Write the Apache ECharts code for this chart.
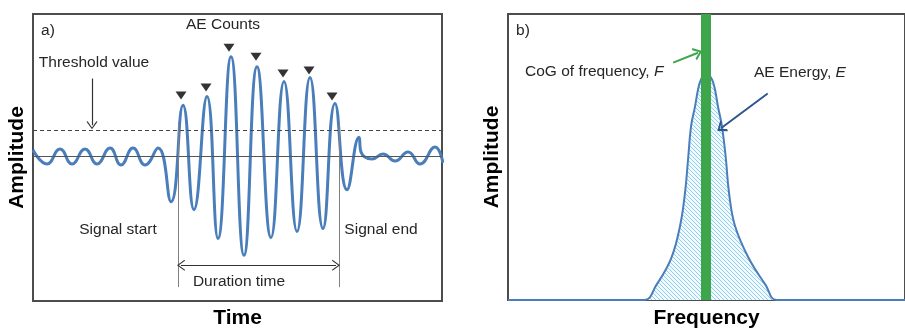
<!DOCTYPE html>
<html lang="en">
<head>
	<meta charset="UTF-8">
	<title>AE signal</title>
	<style>
		body, div {
			margin: 0;
			padding: 0;
		}
		#main {
			width: 905px;
			height: 334px;
			background: #fff;
		}
	</style>
</head>
<body>
	<div id="main"></div>

	<script src="https://cdn.jsdelivr.net/npm/echarts@6/dist/echarts.min.js"></script>

	<script>
    // a) waveform: time / amplitude (peaks, troughs)
    var waveTime = [0, 14, 27, 39, 52, 64, 77, 88, 100, 112, 125,
        138, 150, 161, 174, 185, 198, 211, 224, 238, 251, 264, 277, 290, 302,
        314, 326, 328, 339, 350, 362, 375, 387, 402, 410];
    var waveAmp = [6, -8, 7, -8, 7, -8, 8, -9, 8, -9, 8,
        -46, 51, -54, 60, -83, 100, -100, 90, -82, 75, -76, 79, -73, 53,
        -34, 19, 4, -3, 2, -5, 4, -8, 9, -7];

    // AE counts markers
    var countTime = [148, 173, 196, 223, 250, 276, 299];
    var countAmp = [61, 69, 109, 100, 83, 86, 60];

    var threshold = 26;
    var signalStart = 145;
    var signalEnd = 306;

    // b) spectrum
    var specFreq = [0, 137, 149, 164, 173, 178, 181, 184, 188, 191, 194, 199,
        205, 208, 211, 215, 219, 222, 228, 242, 259, 270, 399];
    var specAmp = [0, 0, 15, 42, 75, 109, 142, 175, 195, 212, 222, 229,
        222, 212, 195, 175, 142, 109, 75, 42, 15, 0, 0];
    var cogFreq = 199;

    var font = '"Liberation Sans", Arial, sans-serif';
    var txt = '#262626';
    var blue = '#4a7ebb';
    var green = '#3ea64a';
    var chevron = 'path://M0,10 L5,0 L10,10 L9,10.6 L5,2.4 L1,10.6 Z';
    var chevronBold = 'path://M0,10 L5,0 L10,10 L8.4,10.8 L5,3.6 L1.6,10.8 Z';

    function pairs(xs, ys) {
        return xs.map(function (x, i) { return [x, ys[i]]; });
    }

    // hatch for the energy area
    var hatch = document.createElement('canvas');
    hatch.width = 4;
    hatch.height = 4;
    var hc = hatch.getContext('2d');
    hc.fillStyle = '#f2fafe';
    hc.fillRect(0, 0, 4, 4);
    hc.fillStyle = '#8fd0f0';
    for (var k = 0; k < 4; k++) {
        hc.fillRect(k, k, 1, 1);
    }

    function axisName(name, gap) {
        return {
            name: name,
            nameLocation: 'middle',
            nameGap: gap,
            nameTextStyle: { fontFamily: font, fontWeight: 'bold', fontSize: 21, color: '#000' }
        };
    }

    function bareAxis(extra) {
        var a = {
            type: 'value',
            axisLine: { show: false },
            axisTick: { show: false },
            axisLabel: { show: false },
            splitLine: { show: false }
        };
        for (var key in extra) a[key] = extra[key];
        return a;
    }

    function label(text, x, y, align, rich) {
        return {
            type: 'text',
            x: x,
            y: y,
            silent: true,
            style: {
                text: text,
                fill: txt,
                font: '15.5px ' + font,
                align: align || 'center',
                verticalAlign: 'middle',
                rich: rich
            }
        };
    }
    var italic = { i: { fontStyle: 'italic', fontSize: 15.5, fontFamily: font, fill: txt } };

    var myEcharts = echarts.init(document.getElementById('main'));

    var options = {
        animation: false,
        grid: [
            { left: 33, top: 14, width: 409, height: 289, show: true, borderColor: '#4d4d4d', borderWidth: 2 },
            { left: 508, top: 14, width: 399, height: 288, show: true, borderColor: '#4d4d4d', borderWidth: 2 }
        ],
        xAxis: [
            bareAxis(Object.assign({ gridIndex: 0, min: 0, max: 409 }, axisName('Time', 7))),
            bareAxis(Object.assign({ gridIndex: 1, min: 0, max: 399 }, axisName('Frequency', 8)))
        ],
        yAxis: [
            bareAxis(Object.assign({ gridIndex: 0, min: -146, max: 143 }, axisName('Amplitude', 5))),
            bareAxis(Object.assign({ gridIndex: 1, min: 0, max: 288 }, axisName('Amplitude', 5)))
        ],
        series: [
            {
                type: 'line',
                xAxisIndex: 0,
                yAxisIndex: 0,
                data: pairs(waveTime, waveAmp),
                smooth: 0.5,
                showSymbol: false,
                lineStyle: { color: blue, width: 3 },
                z: 3,
                markLine: {
                    silent: true,
                    symbol: ['none', 'none'],
                    symbolSize: [11, 8],
                    label: { show: false },
                    data: [
                        { yAxis: 0, lineStyle: { type: 'solid', color: '#555', width: 1 } },
                        { yAxis: threshold, lineStyle: { type: [4, 3], color: '#444', width: 1.2 } },
                        [{ coord: [signalStart, 34], lineStyle: { type: 'solid', color: '#808080', width: 1 } }, { coord: [signalStart, -132] }],
                        [{ coord: [signalEnd, 34], lineStyle: { type: 'solid', color: '#808080', width: 1 } }, { coord: [signalEnd, -132] }],
                        [{ coord: [signalStart + 3, -110], symbol: chevron, lineStyle: { type: 'solid', color: '#333', width: 1.2 } },
                         { coord: [signalEnd - 3, -110], symbol: chevron }],
                        [{ coord: [59, 78], symbol: 'none', lineStyle: { type: 'solid', color: '#333', width: 1.2 } },
                         { coord: [59, threshold + 5], symbol: chevron }]
                    ]
                }
            },
            {
                type: 'scatter',
                xAxisIndex: 0,
                yAxisIndex: 0,
                data: pairs(countTime, countAmp),
                symbol: 'path://M0,0 L10,0 L5,7 Z',
                symbolSize: [11, 8],
                itemStyle: { color: '#000' },
                z: 4
            },
            {
                type: 'line',
                xAxisIndex: 1,
                yAxisIndex: 1,
                data: pairs(specFreq, specAmp),
                smooth: 0.4,
                showSymbol: false,
                lineStyle: { color: blue, width: 2 },
                areaStyle: { color: { image: hatch, repeat: 'repeat' }, opacity: 1 },
                markLine: {
                    silent: true,
                    symbol: ['none', 'none'],
                    symbolSize: [13, 9],
                    label: { show: false },
                    data: [
                        { xAxis: cogFreq, lineStyle: { type: 'solid', color: green, width: 10 } },
                        [{ coord: [166, 239], lineStyle: { type: 'solid', color: green, width: 2 } },
                         { coord: [191, 249], symbol: chevronBold }],
                        [{ coord: [261, 208], lineStyle: { type: 'solid', color: '#2e5590', width: 2 } },
                         { coord: [214, 173], symbol: chevronBold }]
                    ]
                }
            }
        ],
        graphic: [
            label('a)', 48, 31),
            label('AE Counts', 223, 25),
            label('Threshold value', 94, 63),
            label('Signal start', 118, 230),
            label('Signal end', 381, 230),
            label('Duration time', 239, 282),
            label('b)', 523, 31),
            label('CoG of frequency, {i|F}', 525, 72, 'left', italic),
            label('AE Energy, {i|E}', 754, 73, 'left', italic)
        ]
    };

    myEcharts.setOption(options);
	</script>

</body>
</html>
